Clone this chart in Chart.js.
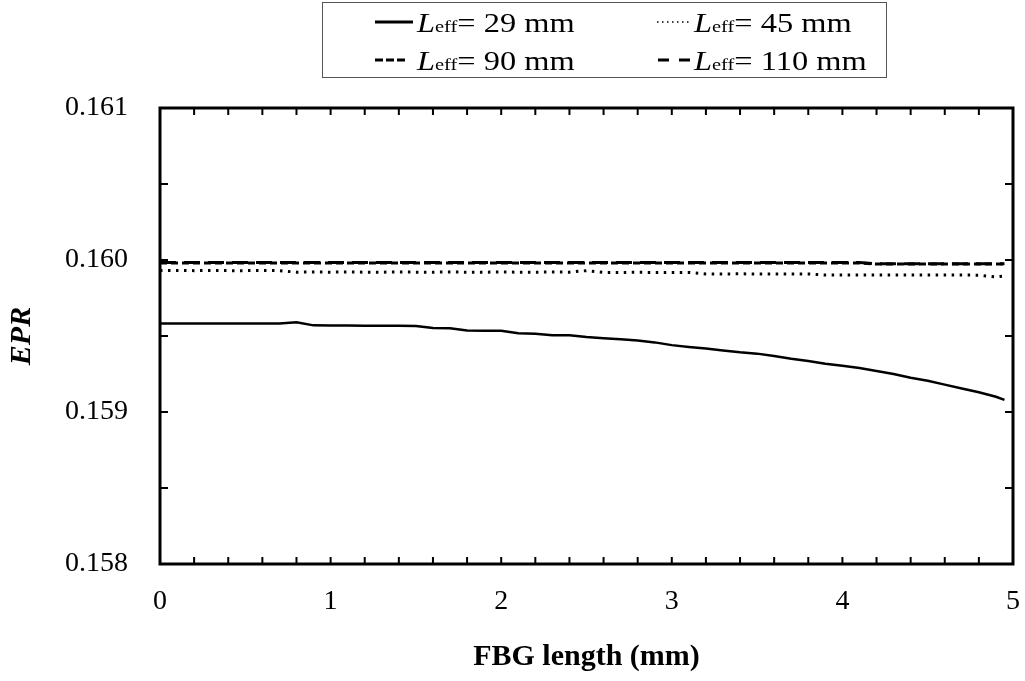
<!DOCTYPE html>
<html>
<head>
<meta charset="utf-8">
<script src="https://cdn.jsdelivr.net/npm/chart.js@4"></script>
<style>
  body { margin: 0; background: #fff; }
  #wrap { position: relative; width: 1025px; height: 681px; }
  #legendBox {
    position: absolute; left: 322px; top: 2px; width: 563px; height: 74px;
    border: 1px solid #555;
  }
  .sample { position: absolute; }
  .label {
    position: absolute; white-space: nowrap; line-height: 27px;
    font-family: "Liberation Serif", serif; font-size: 27px; color: #000;
    transform: scaleX(1.2); transform-origin: left center;
  }
  .label i { font-style: italic; }
  .label .sub { font-size: 17px; }
</style>
</head>
<body>
<div id="wrap">
  <canvas id="epr" width="1025" height="681"></canvas>
  <div id="legendBox"></div>
</div>
<script>
// FBG length positions (mm)
const fbgLength = [0, 0.1, 0.2, 0.3, 0.4, 0.5, 0.6, 0.7, 0.8, 0.9,
  1.0, 1.1, 1.2, 1.3, 1.4, 1.5, 1.6, 1.7, 1.8, 1.9,
  2.0, 2.1, 2.2, 2.3, 2.4, 2.5, 2.6, 2.7, 2.8, 2.9,
  3.0, 3.1, 3.2, 3.3, 3.4, 3.5, 3.6, 3.7, 3.8, 3.9,
  4.0, 4.1, 4.2, 4.3, 4.4, 4.5, 4.6, 4.7, 4.8, 4.9, 4.95];

// EPR for each effective length
const epr29 = [0.159583, 0.159583, 0.159583, 0.159583, 0.159583, 0.159583, 0.159583, 0.159583, 0.159590, 0.159570,
  0.159569, 0.159569, 0.159568, 0.159568, 0.159567, 0.159566, 0.159552, 0.159551, 0.159536, 0.159535,
  0.159534, 0.159518, 0.159515, 0.159505, 0.159505, 0.159493, 0.159485, 0.159478, 0.159470, 0.159458,
  0.159440, 0.159428, 0.159418, 0.159405, 0.159393, 0.159384, 0.159368, 0.159350, 0.159336, 0.159318,
  0.159305, 0.159290, 0.159270, 0.159250, 0.159225, 0.159205, 0.159180, 0.159155, 0.159130, 0.159100, 0.159080];
const epr45 = [0.159930, 0.159931, 0.159930, 0.159931, 0.159930, 0.159930, 0.159931, 0.159930, 0.159920, 0.159921,
  0.159920, 0.159921, 0.159920, 0.159920, 0.159921, 0.159920, 0.159920, 0.159921, 0.159920, 0.159920,
  0.159921, 0.159920, 0.159920, 0.159921, 0.159920, 0.159930, 0.159918, 0.159918, 0.159919, 0.159918,
  0.159918, 0.159918, 0.159908, 0.159908, 0.159909, 0.159908, 0.159908, 0.159908, 0.159908, 0.159901,
  0.159901, 0.159902, 0.159901, 0.159901, 0.159901, 0.159902, 0.159901, 0.159901, 0.159900, 0.159888, 0.159895];
const epr90 = [0.159981, 0.159981, 0.159981, 0.159981, 0.159981, 0.159981, 0.159981, 0.159981, 0.159981, 0.159981,
  0.159981, 0.159981, 0.159981, 0.159981, 0.159981, 0.159981, 0.159981, 0.159981, 0.159981, 0.159981,
  0.159981, 0.159981, 0.159981, 0.159981, 0.159981, 0.159981, 0.159981, 0.159981, 0.159981, 0.159981,
  0.159981, 0.159981, 0.159981, 0.159981, 0.159981, 0.159981, 0.159981, 0.159981, 0.159981, 0.159981,
  0.159981, 0.159981, 0.159973, 0.159973, 0.159973, 0.159973, 0.159973, 0.159973, 0.159973, 0.159973, 0.159973];
const epr110 = [0.159983, 0.159983, 0.159983, 0.159983, 0.159983, 0.159983, 0.159983, 0.159983, 0.159983, 0.159983,
  0.159983, 0.159983, 0.159983, 0.159983, 0.159983, 0.159983, 0.159983, 0.159983, 0.159983, 0.159983,
  0.159983, 0.159983, 0.159983, 0.159983, 0.159983, 0.159983, 0.159983, 0.159983, 0.159983, 0.159983,
  0.159983, 0.159983, 0.159983, 0.159983, 0.159983, 0.159983, 0.159983, 0.159983, 0.159983, 0.159983,
  0.159983, 0.159983, 0.159975, 0.159975, 0.159975, 0.159975, 0.159975, 0.159975, 0.159975, 0.159975, 0.159975];

const seriesNames = ['29 mm', '45 mm', '90 mm', '110 mm'];
const xTickLabels = [0, 1, 2, 3, 4, 5];
const xMinorTicks = [0.2, 0.4, 0.6, 0.8, 1, 1.2, 1.4, 1.6, 1.8, 2, 2.2, 2.4, 2.6, 2.8, 3,
  3.2, 3.4, 3.6, 3.8, 4, 4.2, 4.4, 4.6, 4.8];
const yTickValues = [0.158, 0.1585, 0.159, 0.1595, 0.160, 0.1605, 0.161];

const dashes = [[], [2.5, 5.5], [7, 4], [16, 8]];
const widths = [2.5, 3, 3, 3];

// legend done in html so the italic L and the small "eff" come out right
// [sample left, sample width, row centre, text left]
const legendPos = [[375, 38, 22, 417], [657, 35, 22, 694], [375, 30, 60, 417], [658, 33, 60, 694]];
const legendDash = ['', '1.5 3.5', '8 3', '11 10'];
const wrap = document.getElementById('wrap');
seriesNames.forEach((name, i) => {
  const p = legendPos[i];
  const svg = document.createElement('div');
  svg.className = 'sample';
  svg.style.left = p[0] + 'px';
  svg.style.top = (p[2] - 3) + 'px';
  svg.innerHTML = '<svg width="' + p[1] + '" height="6" style="display:block"><line x1="0" y1="3" x2="' + p[1] +
    '" y2="3" stroke="#000" stroke-width="' + (i === 1 ? 1.5 : 3) + '" stroke-dasharray="' + legendDash[i] + '"/></svg>';
  wrap.appendChild(svg);
  const txt = document.createElement('div');
  txt.className = 'label';
  txt.style.left = p[3] + 'px';
  txt.style.top = (p[2] - 12) + 'px';
  txt.innerHTML = '<i>L</i><span class="sub">eff</span>= ' + name;
  wrap.appendChild(txt);
});

// inward ticks on all four sides plus the box
const frameTicks = {
  id: 'frameTicks',
  afterDraw(chart) {
    const { ctx, chartArea: a, scales: { x, y } } = chart;
    ctx.save();
    ctx.strokeStyle = '#000';
    ctx.lineWidth = 2;
    ctx.beginPath();
    xMinorTicks.forEach(v => {
      const px = x.getPixelForValue(v);
      ctx.moveTo(px, a.bottom); ctx.lineTo(px, a.bottom - 7);
      ctx.moveTo(px, a.top); ctx.lineTo(px, a.top + 7);
    });
    yTickValues.forEach(v => {
      const py = y.getPixelForValue(v);
      ctx.moveTo(a.left, py); ctx.lineTo(a.left + 8, py);
      ctx.moveTo(a.right, py); ctx.lineTo(a.right - 8, py);
    });
    ctx.stroke();
    ctx.lineWidth = 3;
    ctx.strokeRect(a.left, a.top, a.right - a.left, a.bottom - a.top);
    ctx.restore();
  }
};

Chart.defaults.font.family = '"Liberation Serif", "Times New Roman", serif';
Chart.defaults.color = '#000';

const allSeries = [epr29, epr45, epr90, epr110];
new Chart(document.getElementById('epr').getContext('2d'), {
  type: 'line',
  data: {
    datasets: allSeries.map((vals, i) => ({
      label: seriesNames[i],
      data: fbgLength.map((xv, j) => ({ x: xv, y: vals[j] })),
      borderColor: '#000',
      borderWidth: widths[i],
      borderDash: dashes[i],
      pointRadius: 0,
      fill: false,
      tension: 0
    }))
  },
  options: {
    responsive: false,
    animation: false,
    events: [],
    layout: { padding: { top: 108, right: 12, left: 0, bottom: 0 } },
    plugins: { legend: { display: false }, tooltip: { enabled: false } },
    scales: {
      x: {
        type: 'linear',
        min: 0, max: 5,
        afterFit: s => { s.height = 117; s.paddingLeft = 0; s.paddingRight = 0; },
        afterBuildTicks: s => { s.ticks = xTickLabels.map(v => ({ value: v })); },
        grid: { display: false, drawTicks: false },
        border: { display: false },
        ticks: { font: { size: 28 }, padding: 21, maxRotation: 0 },
        title: { display: true, text: 'FBG length (mm)', font: { size: 30, weight: 'bold' }, padding: { top: 0, bottom: 6 } }
      },
      y: {
        min: 0.158, max: 0.161,
        afterFit: s => { s.width = 160; },
        afterBuildTicks: s => { s.ticks = yTickValues.map(v => ({ value: v })); },
        grid: { display: false, drawTicks: false },
        border: { display: false },
        ticks: {
          font: { size: 28 },
          padding: 32,
          callback: v => Math.abs(v * 1000 - Math.round(v * 1000)) < 1e-6 ? v.toFixed(3) : ''
        },
        title: { display: true, text: 'EPR', font: { size: 30, weight: 'bold', style: 'italic' }, padding: { top: 4, bottom: 0 } }
      }
    }
  },
  plugins: [frameTicks]
});
</script>
</body>
</html>
